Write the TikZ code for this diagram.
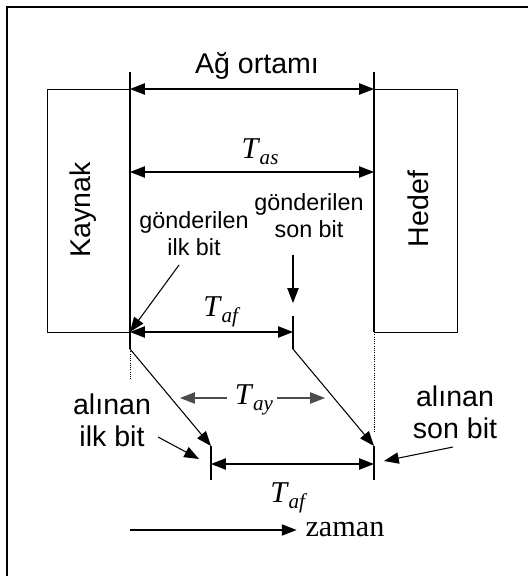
\documentclass[tikz,border=0pt]{standalone}
\usepackage{fontspec}
\setmainfont{Liberation Serif}
\setsansfont{Liberation Sans}
\usetikzlibrary{arrows.meta}
\newcommand{\Tsub}[1]{\textit{T}\kern-0.3pt\raisebox{-0.45ex}{\fontsize{15}{15}\selectfont\textit{#1}}}

\begin{document}
\begin{tikzpicture}[x=0.025cm, y=-0.025cm, line width=0.75pt,
    lbl/.style = {font=\sffamily\fontsize{20.3}{22.5}\selectfont, align=center, inner sep=0},
    slbl/.style = {font=\sffamily\fontsize{16.6}{19.2}\selectfont, align=center, inner sep=0},
    tlbl/.style = {font=\fontsize{21.5}{24}\selectfont, inner sep=0},
    box/.style = {draw, line width=0.6pt, minimum width=2.075cm, minimum height=6.075cm, inner sep=0},
    tip/.style = {-{Triangle[length=10.5pt,width=8pt]}},
    both/.style = {{Triangle[length=10.5pt,width=8pt]}-{Triangle[length=10.5pt,width=8pt]}},
    dots/.style = {line width=0.45pt, dash pattern=on 0.8pt off 0.8pt}]
    \useasboundingbox (0,0) rectangle (528,576);
    \draw[line width=0.9pt] (7,576) -- (7,7) -- (528,7);

    % end systems
    \node[box] (kaynak) at (88.5,210.5) {};
    \node[box] (hedef) at (415.5,210.5) {};
    \node[lbl, rotate=90] (kaynakt) at (83,210) {Kaynak};
    \node[lbl, rotate=90] (hedeft) at (418,209) {Hedef};

    % time lines of the two ends
    \coordinate (k1) at (130,72);
    \coordinate (k2) at (130,349);
    \coordinate (k3) at (130,380);
    \coordinate (h1) at (374,72);
    \coordinate (h2) at (374,332);
    \coordinate (h3) at (374,432);
    \draw (k1) -- (k2);
    \draw (h1) -- (h2);
    \draw[dots] (k2) -- (k3);
    \draw[dots] (h2) -- (h3);

    % sent and received bits
    \coordinate (s1) at (130,332);
    \coordinate (s2) at (293,332);
    \coordinate (s2t) at (293,316);
    \coordinate (s2b) at (293,349);
    \coordinate (r1) at (211,464);
    \coordinate (r1t) at (211,446);
    \coordinate (r1b) at (211,480);
    \coordinate (r2) at (374,464);
    \coordinate (r2t) at (374,446);
    \coordinate (r2b) at (374,480);
    \draw (s2t) -- (s2b);
    \draw (r1t) -- (r1b);
    \draw (r2t) -- (r2b);
    \draw[tip] (k2) -- (r1t);
    \draw[tip] (s2b) -- (r2t);

    % dimensions
    \node[lbl] (ag) at (257,66) {Ağ ortamı};
    \coordinate (ag1) at (130,89);
    \coordinate (ag2) at (374,89);
    \draw[both] (ag1) -- (ag2);

    \node[tlbl] (tas) at (260,152) {\Tsub{as}};
    \coordinate (tas1) at (130,172);
    \coordinate (tas2) at (374,172);
    \draw[both] (tas1) -- (tas2);

    \node[tlbl] (taf1) at (222,312) {\Tsub{af}};
    \draw[both] (s1) -- (s2);

    \node[tlbl] (taf2) at (289,498) {\Tsub{af}};
    \draw[both] (r1) -- (r2);

    \node[tlbl] (tay) at (254,400) {\Tsub{ay}};
    \coordinate (tay1s) at (227,398);
    \coordinate (tay1) at (180,398);
    \coordinate (tay2s) at (277,398);
    \coordinate (tay2) at (325,398);
    \draw[tip, gray!60!black] (tay1s) -- (tay1);
    \draw[tip, gray!60!black] (tay2s) -- (tay2);

    % bit labels
    \node[slbl] (gilk) at (194,234) {gönderilen\\ilk bit};
    \coordinate (gilk1) at (179,265);
    \draw[tip] (gilk1) -- (s1);

    \node[slbl] (gson) at (309,216) {gönderilen\\son bit};
    \coordinate (gson1) at (293,255);
    \coordinate (gson2) at (293,303);
    \draw[tip] (gson1) -- (gson2);

    \node[lbl] (ailk) at (112,420) {alınan\\ilk bit};
    \coordinate (ailk1) at (158,437);
    \coordinate (ailk2) at (199,459);
    \draw[tip] (ailk1) -- (ailk2);

    \node[lbl] (ason) at (455,412) {alınan\\son bit};
    \coordinate (ason1) at (453,447);
    \coordinate (ason2) at (384,461);
    \draw[tip] (ason1) -- (ason2);

    % time axis
    \node[tlbl, anchor=west] (zaman) at (305,530) {zaman};
    \coordinate (z0) at (130,530);
    \draw[tip, shorten >=6pt] (z0) -- (zaman.west);
\end{tikzpicture}
\end{document}
